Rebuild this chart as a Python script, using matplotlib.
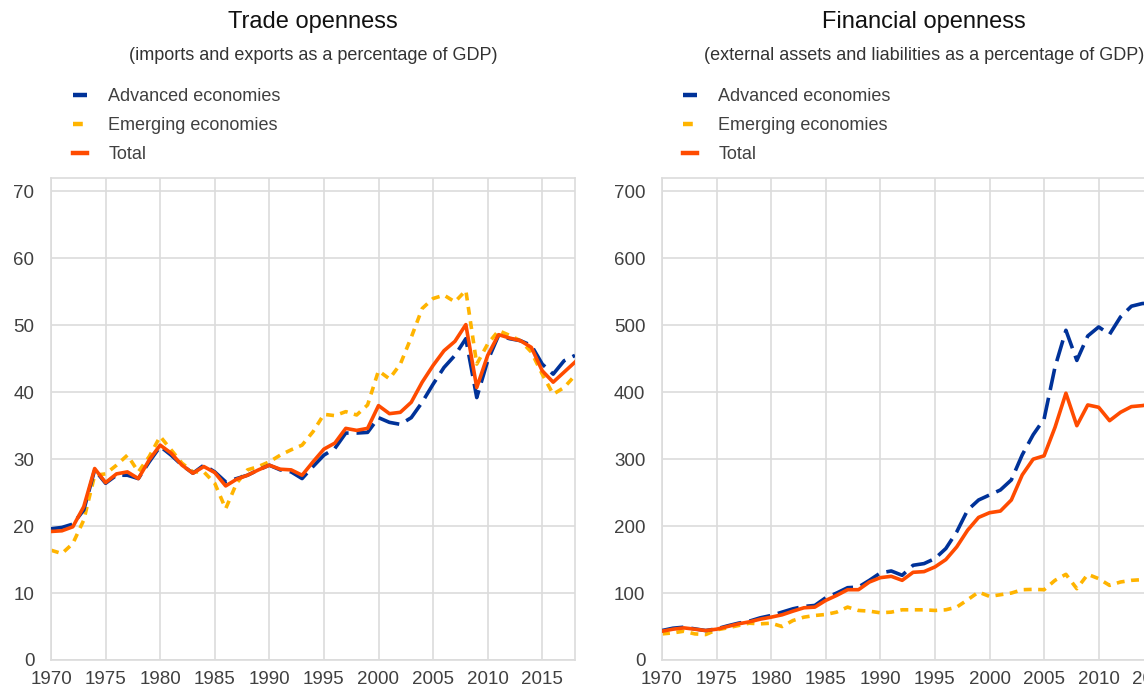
import matplotlib
matplotlib.use("Agg")
import matplotlib.pyplot as plt

plt.rcParams['font.family'] = ['Liberation Sans', 'DejaVu Sans']

# ---- data ----
trade_years = list(range(1970, 2019))
trade_adv = [19.6, 19.8, 20.3, 22.4, 28.4, 26.4, 27.6, 27.6, 27.1, 29.6,
             31.9, 30.6, 29.1, 27.9, 29.1, 28.1, 26.6, 27.1, 27.6, 28.4,
             29.1, 28.4, 28.1, 27.1, 28.9, 30.6, 31.6, 33.9, 33.9, 34.0,
             36.2, 35.5, 35.2, 36.2, 38.5, 41.2, 43.7, 45.5, 48.0, 39.2,
             44.7, 48.5, 48.0, 47.7, 47.0, 44.2, 42.7, 44.7, 45.5]
trade_emg = [16.4, 15.9, 17.4, 20.9, 27.6, 27.8, 29.1, 30.6, 28.1, 30.4,
             33.4, 31.4, 29.4, 28.1, 28.1, 26.4, 22.6, 26.4, 28.4, 28.9,
             29.6, 30.6, 31.4, 32.1, 34.1, 36.7, 36.5, 37.1, 36.6, 38.1,
             43.2, 42.0, 44.2, 48.2, 52.5, 54.0, 54.5, 53.5, 55.2, 44.2,
             47.2, 49.2, 48.5, 47.7, 46.0, 42.7, 39.7, 40.7, 42.5]
trade_tot = [19.2, 19.3, 19.9, 22.9, 28.6, 26.5, 27.8, 28.1, 27.1, 29.9,
             32.1, 30.9, 29.1, 27.9, 28.9, 28.0, 26.0, 27.0, 27.6, 28.4,
             29.1, 28.5, 28.4, 27.6, 29.6, 31.5, 32.4, 34.6, 34.3, 34.6,
             38.0, 36.8, 37.0, 38.5, 41.5, 44.0, 46.2, 47.6, 50.1, 40.7,
             45.5, 48.6, 48.1, 47.7, 46.7, 43.2, 41.5, 43.0, 44.5]

fin_years = list(range(1970, 2016))
fin_adv = [44, 47.5, 49, 46.5, 44, 46.5, 51, 55, 58, 63,
           66.5, 71.5, 76.5, 80, 81.5, 93, 100, 108, 109, 119,
           130, 133, 126.5, 141.5, 144, 151.5, 166.5, 191.5, 224, 239,
           246.5, 254, 269, 306.5, 336.5, 360, 437.5, 492.5, 447.5, 484,
           497.5, 486.5, 512.5, 528.5, 532.5, 533]
fin_emg = [39, 40.5, 43, 39, 38, 45, 48, 51.5, 55, 54,
           55, 50, 59, 64, 66.5, 68, 71.5, 79, 74, 73,
           70.5, 71.5, 75, 75, 75, 74, 75, 79, 90, 101.5,
           95, 97.5, 100, 105, 105.5, 105, 119, 128, 106.5, 128,
           121.5, 111.5, 116.5, 119, 120, 121.5]
fin_tot = [43, 46, 48, 46, 44, 46, 50, 54, 57, 61,
           64, 67.5, 73, 78, 79, 89, 96.5, 105, 105, 116.5,
           123, 125, 119, 131, 132, 139, 150, 169, 194, 213,
           220, 222.5, 239, 276.5, 300, 305, 347.5, 398.5, 350, 381,
           377.5, 357.5, 370, 378.5, 380, 382.5]

series_names = ['Advanced economies', 'Emerging economies', 'Total']
colors = ['#003299', '#FFB400', '#FF4B00']

W, H = 1144, 692
fig = plt.figure(figsize=(W / 100, H / 100), dpi=100)

grid_c = '#dcdcdc'
tick_c = '#404040'


def make_panel(rect, years, adv, emg, tot, ymax, yticks, title, subtitle,
               legend_x):
    ax = fig.add_axes(rect)
    lw = 2.6
    ax.plot(years, adv, color=colors[0], lw=lw, dashes=(6.0, 2.2),
            label=series_names[0], solid_capstyle='butt', zorder=3)
    ax.plot(years, emg, color=colors[1], lw=lw, dashes=(2.2, 1.8),
            label=series_names[1], zorder=2)
    ax.plot(years, tot, color=colors[2], lw=lw, label=series_names[2],
            zorder=4)
    ax.set_xlim(1970, 2018)
    ax.set_ylim(0, ymax)
    ax.set_xticks(range(1970, 2016, 5))
    ax.set_yticks(yticks)
    ax.grid(True, color=grid_c, lw=1.2)
    ax.set_axisbelow(True)
    for s in ax.spines.values():
        s.set_color(grid_c)
        s.set_linewidth(1.2)
    ax.tick_params(length=0, labelsize=13.5, colors=tick_c)
    ax.tick_params(axis='y', pad=12)
    ax.tick_params(axis='x', pad=8)

    cx = rect[0] + rect[2] / 2
    fig.text(cx, 1 - 22 / H, title, ha='center', va='center', fontsize=17,
             color='#111111')
    fig.text(cx, 1 - 55 / H, subtitle, ha='center', va='center',
             fontsize=13, color='#333333')
    leg = ax.legend(loc='upper left', bbox_to_anchor=(legend_x / W, 1 - 88 / H),
                    bbox_transform=fig.transFigure, frameon=False, fontsize=13,
                    handlelength=0.75, handletextpad=1.2, labelspacing=0.66,
                    borderpad=0, borderaxespad=0, labelcolor='#404040')
    handles = leg.get_lines()
    for h in handles:
        h.set_linewidth(3.2)
    handles[0].set_linestyle('-')
    return ax


bottom = (H - 660) / H
height = (660 - 178) / H
width = 524 / W

make_panel([51 / W, bottom, width, height], trade_years, trade_adv,
           trade_emg, trade_tot, 72, range(0, 71, 10), 'Trade openness',
           '(imports and exports as a percentage of GDP)', 73)
make_panel([662 / W, bottom, width, height], fin_years, fin_adv,
           fin_emg, fin_tot, 720, range(0, 701, 100), 'Financial openness',
           '(external assets and liabilities as a percentage of GDP)', 683)

fig.savefig('out.png', dpi=100)
